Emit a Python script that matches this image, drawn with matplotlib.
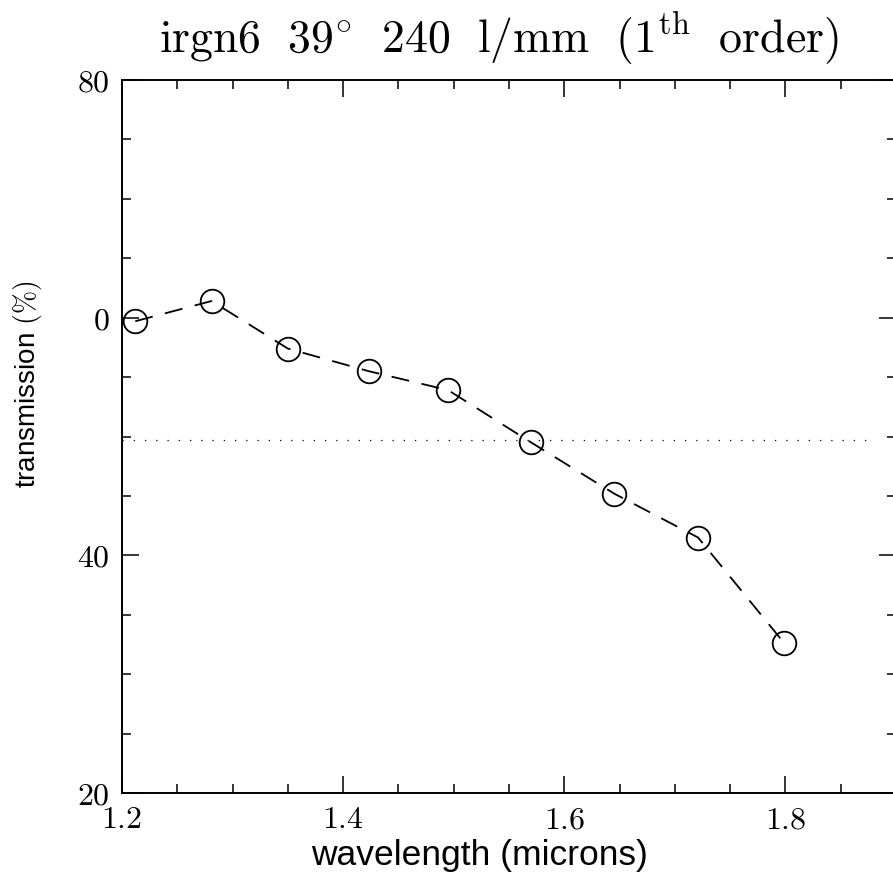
import matplotlib
matplotlib.use('Agg')
import matplotlib.pyplot as plt
from matplotlib.ticker import MultipleLocator, FixedLocator, FixedFormatter

plt.rcParams['mathtext.fontset'] = 'cm'
plt.rcParams['font.family'] = ['Liberation Sans', 'DejaVu Sans']

# data
wavelength = [1.212, 1.281, 1.350, 1.423, 1.495, 1.570, 1.645, 1.721, 1.799]
transmission = [59.7, 61.4, 57.4, 55.5, 53.9, 49.5, 45.2, 41.5, 32.6]
ref_level = 49.7

xticks = [1.2, 1.4, 1.6, 1.8]
xticklabels = ['1.2', '1.4', '1.6', '1.8']
yticks = [20, 40, 60, 80]
yticklabels = ['20', '40', '0', '80']

W, H = 893, 886
fig = plt.figure(figsize=(W / 100, H / 100), dpi=100)
ax = fig.add_axes([122 / W, (H - 793) / H, (896 - 122) / W, (793 - 80) / H])

ax.plot(wavelength, transmission, color='black', lw=1.3, ls=(0, (10, 7)),
        marker='o', ms=17, mfc='none', mec='black', mew=1.3)
ax.plot([1.2, 1.875], [ref_level, ref_level], color='black', lw=0.9, ls=(0, (1, 8)))

ax.set_xlim(1.2, 1.9)
ax.set_ylim(20, 80)

ax.xaxis.set_major_locator(FixedLocator(xticks))
ax.xaxis.set_major_formatter(FixedFormatter(['$\\mathrm{%s}$' % s for s in xticklabels]))
ax.xaxis.set_minor_locator(MultipleLocator(0.05))
ax.yaxis.set_major_locator(FixedLocator(yticks))
ax.yaxis.set_major_formatter(FixedFormatter(['$\\mathrm{%s}$' % s for s in yticklabels]))
ax.yaxis.set_minor_locator(MultipleLocator(5))

ax.tick_params(which='both', direction='in', top=True, right=True, width=1.1,
               labelsize=23, color='black')
ax.tick_params(which='major', length=12.5, pad=9)
ax.tick_params(which='minor', length=6.5)
for s in ax.spines.values():
    s.set_linewidth(1.4)

fig.text(479 / W, 1 - 855 / H, 'wavelength (microns)', fontsize=25.5,
         ha='center', va='center')
fig.text(28 / W, 1 - 384 / H, 'transmission $(\\%)$', rotation=90, fontsize=20,
         ha='center', va='center')
sp = '\\enspace\\,'
title = '$\\mathrm{irgn6' + sp + '39^{\\circ}' + sp + '240' + sp + 'l/mm' + sp + \
        '(1^{th}' + sp + 'order)}$'
fig.text(499 / W, 1 - 38 / H, title, fontsize=33, ha='center', va='center')

fig.savefig('out.png', dpi=100)
